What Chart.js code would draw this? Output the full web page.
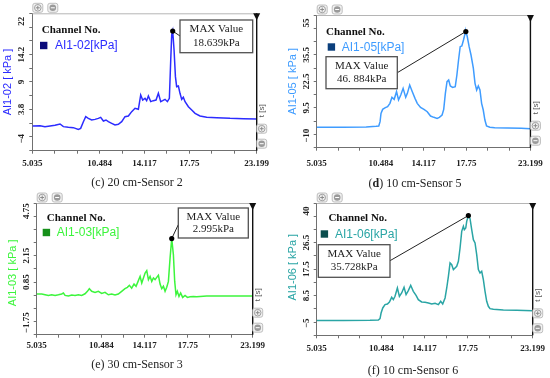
<!DOCTYPE html>
<html>
<head>
<meta charset="utf-8">
<script src="https://cdn.jsdelivr.net/npm/chart.js@4.4.1/dist/chart.umd.min.js"></script>
<style>
  body { margin: 0; background: #fff; }
  #wrap { position: relative; width: 550px; height: 378px; }
  .panel { position: absolute; }
  .cap { position: absolute; font-family: "Liberation Serif", serif; font-size: 12px; color: #222;
         white-space: nowrap; transform: translate(-50%, -50%); }
</style>
</head>
<body>
<div id="wrap">
  <canvas id="s2" class="panel" width="275" height="189" style="left:0;top:0"></canvas>
  <canvas id="s5" class="panel" width="275" height="189" style="left:275px;top:0"></canvas>
  <canvas id="s3" class="panel" width="275" height="189" style="left:0;top:189px"></canvas>
  <canvas id="s6" class="panel" width="275" height="189" style="left:275px;top:189px"></canvas>
  <div class="cap" style="left:137px;top:182px">(c) 20 cm-Sensor 2</div>
  <div class="cap" style="left:415px;top:183px">(<b>d</b>) 10 cm-Sensor 5</div>
  <div class="cap" style="left:137px;top:364px">(e) 30 cm-Sensor 3</div>
  <div class="cap" style="left:413px;top:370px">(f) 10 cm-Sensor 6</div>
</div>
<script>
// time axis (s), shared by all four panels
const xTicks = [5.035, 6.851, 8.668, 10.484, 12.301, 14.117, 15.934, 17.75, 19.566, 21.383, 23.199];
const xLabels = [5.035, 10.484, 14.117, 17.75, 23.199];

// (c) 20 cm - sensor 2
const timeC = [5.06, 5.66, 6.06, 6.47, 6.87, 7.28, 7.55, 7.95, 8.36, 8.76, 8.95, 9.17, 9.36, 9.57, 9.84, 10.11,
  10.38, 10.57, 10.79, 11.0, 11.19, 11.46, 11.73, 12.0, 12.27, 12.54, 12.81, 13.08, 13.35, 13.62, 13.81, 13.97,
  14.16, 14.29, 14.43, 14.62, 14.83, 15.05, 15.24, 15.43, 15.59, 15.78, 15.97, 16.13, 16.24, 16.32, 16.40, 16.51,
  16.62, 16.72, 16.86, 16.99, 17.13, 17.26, 17.40, 17.67, 17.94, 18.21, 18.61, 19.15, 19.96, 21.04, 22.12, 23.2];
const valueC = [0.67, 0.73, 0.55, 0.67, 0.80, 1.05, 0.55, 0.42, 0.36, 0.04, 0.23, 1.49, 2.44, 2.12, 1.81, 1.93,
  2.12, 2.31, 1.62, 1.81, 1.49, 1.18, 0.86, 0.99, 1.49, 2.44, 2.56, 3.39, 4.02, 3.83, 6.54, 5.59,
  5.91, 5.47, 6.35, 5.28, 5.47, 5.59, 6.86, 5.28, 5.47, 5.72, 5.28, 5.91, 13.17, 17.9, 18.639, 15.06,
  10.01, 8.12, 8.24, 6.86, 5.72, 6.10, 5.28, 4.33, 3.70, 3.07, 2.56, 2.31, 2.25, 2.12, 2.06, 1.99];
const yTicksC = [22, 19.4, 16.8, 14.2, 11.6, 9, 6.4, 3.8, 1.2, -1.4, -4];
const yLabelsC = [22, 14.2, 9, 3.8, -4];

// (d) 10 cm - sensor 5
const timeD = [5.035, 7.28, 9.24, 10.08, 10.31, 10.42, 10.50, 10.64, 10.87, 11.06, 11.26, 11.43, 11.62, 11.82,
  11.99, 12.18, 12.38, 12.60, 12.74, 12.94, 13.16, 13.39, 13.58, 13.86, 14.15, 14.43, 14.71, 14.99, 15.27, 15.46,
  15.69, 15.83, 15.97, 16.11, 16.25, 16.39, 16.59, 16.81, 16.95, 17.09, 17.23, 17.37, 17.51, 17.65, 17.71, 17.82,
  17.99, 18.15, 18.35, 18.49, 18.63, 18.77, 18.91, 19.05, 19.19, 19.33, 19.47, 19.75, 20.17, 21.29, 22.41, 23.199];
const valueD = [0, 0, 0.13, 0.46, 0.62, 2.74, 6.82, 8.78, 9.60, 10.09, 11.72, 14.67, 13.69, 17.44,
  13.36, 15.81, 19.07, 14.67, 16.62, 20.71, 17.44, 14.18, 11.72, 9.76, 8.78, 7.64, 5.52, 4.87, 4.38, 4.87,
  6.01, 8.78, 16.62, 22.34, 23.16, 20.22, 19.56, 19.89, 25.61, 32.95, 39.49, 39.81, 42.75, 46.02, 46.884, 44.71,
  39.49, 35.40, 28.87, 21.52, 18.26, 20.22, 18.26, 11.72, 8.46, 3.56, 0.62, 0, -0.19, -0.36, -0.52, -0.69];
const yTicksD = [55, 48.5, 42, 35.5, 29, 22.5, 16, 9.5, 3, -3.5, -10];
const yLabelsD = [55, 35.5, 22.5, 9.5, -10];

// (e) 30 cm - sensor 3
const timeE = [5.035, 5.46, 5.74, 6.02, 6.30, 6.58, 6.86, 7.14, 7.28, 7.42, 7.70, 7.98, 8.26, 8.54, 8.82, 9.10,
  9.30, 9.46, 9.66, 9.94, 10.22, 10.50, 10.78, 11.06, 11.34, 11.62, 11.90, 12.18, 12.46, 12.66, 12.83, 13.02,
  13.22, 13.39, 13.56, 13.73, 13.87, 14.01, 14.15, 14.29, 14.43, 14.57, 14.71, 14.85, 14.99, 15.13, 15.27, 15.41,
  15.55, 15.69, 15.83, 15.97, 16.11, 16.25, 16.39, 16.53, 16.64, 16.75, 16.86, 17.00, 17.14, 17.31, 17.51, 17.71,
  17.93, 18.21, 18.49, 19.33, 21.29, 23.199];
const valueE = [0.26, 0.26, 0.22, 0.18, 0.22, 0.19, 0.22, 0.26, 0.31, 0.19, 0.16, 0.21, 0.18, 0.22, 0.19, 0.27,
  0.39, 0.52, 0.39, 0.34, 0.39, 0.29, 0.34, 0.22, 0.26, 0.21, 0.26, 0.39, 0.52, 0.59, 0.69, 0.55,
  0.75, 0.64, 0.88, 1.13, 0.80, 1.05, 1.29, 1.41, 0.97, 1.13, 0.88, 1.05, 0.97, 1.08, 1.18, 0.75,
  0.52, 0.64, 0.39, 0.59, 0.88, 2.03, 2.995, 2.20, 0.88, 0.22, 0.39, 0.14, 0.31, 0.09, 0.19, 0.09,
  0.12, 0.14, 0.12, 0.16, 0.16, 0.16];
const yTicksE = [4.75, 4.1, 3.45, 2.8, 2.15, 1.5, 0.85, 0.2, -0.45, -1.1, -1.75];
const yLabelsE = [4.75, 2.15, 0.85, -1.75];

// (f) 10 cm - sensor 6
const timeF = [5.035, 7.28, 9.52, 10.22, 10.36, 10.45, 10.59, 10.78, 10.98, 11.15, 11.34, 11.48, 11.62, 11.82,
  11.99, 12.18, 12.38, 12.55, 12.74, 12.94, 13.16, 13.39, 13.58, 13.86, 14.15, 14.43, 14.71, 14.99, 15.27, 15.46,
  15.63, 15.83, 15.97, 16.11, 16.25, 16.39, 16.53, 16.67, 16.81, 16.95, 17.09, 17.23, 17.37, 17.45, 17.57, 17.65,
  17.79, 17.93, 18.07, 18.21, 18.35, 18.49, 18.63, 18.77, 18.91, 19.05, 19.19, 19.33, 19.47, 19.61, 19.89, 20.73,
  21.85, 23.199];
const valueF = [0, 0, 0.10, 0.21, 0.67, 2.59, 4.30, 5.43, 5.65, 6.34, 7.92, 7.13, 8.26, 11.09,
  8.26, 9.40, 11.32, 8.83, 10.19, 12.0, 9.96, 8.60, 7.13, 6.34, 6.22, 6.0, 5.65, 5.88, 5.43, 6.56,
  5.65, 7.70, 11.09, 15.06, 19.60, 19.03, 17.33, 17.90, 18.46, 20.16, 24.70, 30.37, 32.07, 30.93, 31.50, 33.77,
  35.728, 34.67, 30.93, 27.53, 26.40, 22.43, 17.33, 16.20, 16.76, 13.93, 9.96, 6.56, 4.86, 4.07, 3.84, 3.61,
  3.50, 3.39];
const yTicksF = [40, 35.5, 31, 26.5, 22, 17.5, 13, 8.5, 4, -0.5, -5];
const yLabelsF = [40, 26.5, 17.5, 8.5, -5];

const W = 275, H = 189;

function button(ctx, x, y, minus) {
  ctx.fillStyle = '#f2f2f2';
  ctx.strokeStyle = '#b0b0b0';
  ctx.lineWidth = 0.8;
  ctx.beginPath();
  ctx.roundRect(x - 5, y - 4.5, 10, 9, 2);
  ctx.fill(); ctx.stroke();
  ctx.beginPath();
  ctx.arc(x, y, 3.3, 0, Math.PI * 2);
  if (minus) { ctx.fillStyle = '#9a9a9a'; ctx.fill(); ctx.strokeStyle = '#fff'; }
  else { ctx.strokeStyle = '#8a8a8a'; ctx.stroke(); }
  ctx.lineWidth = 1;
  ctx.beginPath();
  ctx.moveTo(x - 2, y); ctx.lineTo(x + 2, y);
  if (!minus) { ctx.moveTo(x, y - 2); ctx.lineTo(x, y + 2); }
  ctx.stroke();
}

function decor(p) {
  return {
    id: 'decor',
    afterDraw(chart) {
      const ctx = chart.ctx, a = chart.chartArea, xs = chart.scales.x, ys = chart.scales.y;
      ctx.save();
      // top frame line
      ctx.strokeStyle = '#b5b5b5'; ctx.lineWidth = 1;
      ctx.beginPath(); ctx.moveTo(a.left, a.top + 0.5); ctx.lineTo(a.right, a.top + 0.5); ctx.stroke();
      // cursor line with marker
      ctx.strokeStyle = '#111'; ctx.lineWidth = 1.4;
      ctx.beginPath(); ctx.moveTo(a.right, a.top); ctx.lineTo(a.right, a.bottom); ctx.stroke();
      ctx.fillStyle = '#111';
      ctx.beginPath(); ctx.moveTo(a.right - 3.5, a.top); ctx.lineTo(a.right + 3.5, a.top); ctx.lineTo(a.right, a.top + 7); ctx.fill();

      // y tick labels, rotated
      ctx.font = 'bold 9px "Liberation Serif"';
      ctx.fillStyle = '#222'; ctx.textAlign = 'center'; ctx.textBaseline = 'middle';
      p.yLabels.forEach(v => {
        let y = ys.getPixelForValue(v);
        y = Math.min(Math.max(y, a.top + 8), a.bottom - 12);
        ctx.save(); ctx.translate(a.left - 10.5, y); ctx.rotate(-Math.PI / 2);
        ctx.fillText(String(v).replace('-', '\u2212'), 0, 0); ctx.restore();
      });

      // y axis title
      ctx.font = '11px "Liberation Sans"'; ctx.fillStyle = p.color;
      ctx.save(); ctx.translate(a.left - 24, (a.top + a.bottom) / 2 + p.titleDy); ctx.rotate(-Math.PI / 2);
      ctx.fillText(p.title, 0, 0); ctx.restore();

      // legend
      const [chX, chY, sqX, sqY, txX] = p.leg;
      ctx.textAlign = 'left';
      ctx.font = 'bold 11px "Liberation Serif"'; ctx.fillStyle = '#111';
      ctx.fillText('Channel No.', a.left + chX, a.top + chY);
      ctx.fillStyle = p.square;
      ctx.fillRect(a.left + sqX, a.top + sqY - 3.7, 7.4, 7.4);
      ctx.font = '12px "Liberation Sans"'; ctx.fillStyle = p.color;
      ctx.fillText(p.channel, a.left + txX, a.top + sqY + 0.5);

      // max value marker
      const im = p.value.indexOf(Math.max(...p.value));
      const px = xs.getPixelForValue(p.time[im]), py = ys.getPixelForValue(p.value[im]);
      const [bx, by, bw, bh, ax, ay] = p.box;
      ctx.strokeStyle = '#222'; ctx.lineWidth = 1;
      ctx.beginPath(); ctx.moveTo(px, py); ctx.lineTo(ax, ay); ctx.stroke();
      ctx.fillStyle = '#000';
      ctx.beginPath(); ctx.arc(px, py, 2.6, 0, Math.PI * 2); ctx.fill();
      ctx.fillStyle = '#fff'; ctx.strokeStyle = '#505050'; ctx.lineWidth = 1.3;
      ctx.fillRect(bx, by, bw, bh); ctx.strokeRect(bx, by, bw, bh);
      ctx.fillStyle = '#222'; ctx.textAlign = 'center';
      ctx.font = '11px "Liberation Serif"';
      ctx.fillText('MAX Value', bx + bw / 2, by + bh * 0.29);
      ctx.fillText(p.maxText, bx + bw / 2, by + bh * 0.7);

      // zoom buttons and time unit
      button(ctx, a.left + 5.5, a.top - 5.5, false);
      button(ctx, a.left + 20.5, a.top - 5.5, true);
      button(ctx, a.right + 5, a.bottom - 22, false);
      button(ctx, a.right + 5, a.bottom - 7, true);
      ctx.font = '8px "Liberation Sans"'; ctx.fillStyle = '#555';
      ctx.save(); ctx.translate(a.right + 5, a.bottom - 40); ctx.rotate(-Math.PI / 2);
      ctx.fillText('t [s]', 0, 0); ctx.restore();
      ctx.restore();
    }
  };
}

function panel(id, p) {
  const points = p.time.map((t, i) => ({ x: t, y: p.value[i] }));
  const axisGrid = { drawOnChartArea: false, tickLength: 3, color: '#707070' };
  new Chart(document.getElementById(id), {
    type: 'line',
    data: { datasets: [{ data: points, borderColor: p.color, borderWidth: 1.5, pointRadius: 0, tension: 0 }] },
    options: {
      responsive: false,
      animation: false,
      events: [],
      layout: { padding: { left: 0, top: p.area[1], right: W - p.area[2], bottom: 0 } },
      plugins: { legend: { display: false }, tooltip: { enabled: false } },
      scales: {
        x: {
          type: 'linear', min: 5.035, max: 23.199,
          afterBuildTicks: s => { s.ticks = xTicks.map(v => ({ value: v })); },
          afterFit: s => { s.height = H - p.area[3]; },
          grid: axisGrid,
          border: { color: '#707070' },
          ticks: {
            autoSkip: false, maxRotation: 0, padding: p.xPad, color: '#222',
            font: { family: 'Liberation Serif', size: 9, weight: 'bold' },
            callback: v => xLabels.includes(v) ? String(v) : ''
          }
        },
        y: {
          type: 'linear', min: p.yTicks[p.yTicks.length - 1], max: p.yTicks[0],
          afterBuildTicks: s => { s.ticks = p.yTicks.map(v => ({ value: v })); },
          afterFit: s => { s.width = p.area[0]; },
          grid: axisGrid,
          border: { color: '#707070' },
          ticks: { display: false }
        }
      }
    },
    plugins: [decor(p)]
  });
}

panel('s2', { time: timeC, value: valueC, yTicks: yTicksC, yLabels: yLabelsC,
  area: [32.3, 13.3, 256.7, 150.7], xPad: 4.2, color: '#2c2cff', square: '#0a0a7a',
  title: 'AI1-02 [ kPa ]', channel: 'AI1-02[kPa]', maxText: '18.639kPa', titleDy: 0,
  box: [180, 20, 72.7, 32.7, 180, 36], leg: [9.4, 16.7, 7.7, 32.2, 22.7] });

panel('s5', { time: timeD, value: valueD, yTicks: yTicksD, yLabels: yLabelsD,
  area: [41.7, 15, 257.3, 147.7], xPad: 7.2, color: '#3f9cff', square: '#0b3f7c',
  title: 'AI1-05 [ kPa ]', channel: 'AI1-05[kPa]', maxText: '46. 884kPa', titleDy: 0,
  box: [51, 56.7, 71.3, 32, 122.3, 72.7], leg: [9.3, 16.7, 11, 32, 25] });

panel('s3', { time: timeE, value: valueE, yTicks: yTicksE, yLabels: yLabelsE,
  area: [36.7, 14, 252.7, 145.7], xPad: 2.6, color: '#3cf53c', square: '#16901a',
  title: 'AI1-03 [ kPa ]', channel: 'AI1-03[kPa]', maxText: '2.995kPa', titleDy: 4,
  box: [178.3, 19, 70, 30, 178.3, 35.7], leg: [10, 15, 6, 29.5, 20] });

panel('s6', { time: timeF, value: valueF, yTicks: yTicksF, yLabels: yLabelsF,
  area: [41.7, 14, 257.7, 146.3], xPad: 4.6, color: '#2aa5a5', square: '#0b4d4d',
  title: 'AI1-06 [ kPa ]', channel: 'AI1-06[kPa]', maxText: '35.728kPa', titleDy: -2,
  box: [43.3, 55.7, 71.7, 32.6, 115, 71.7], leg: [11.7, 15, 4, 31, 18.3] });
</script>
</body>
</html>
